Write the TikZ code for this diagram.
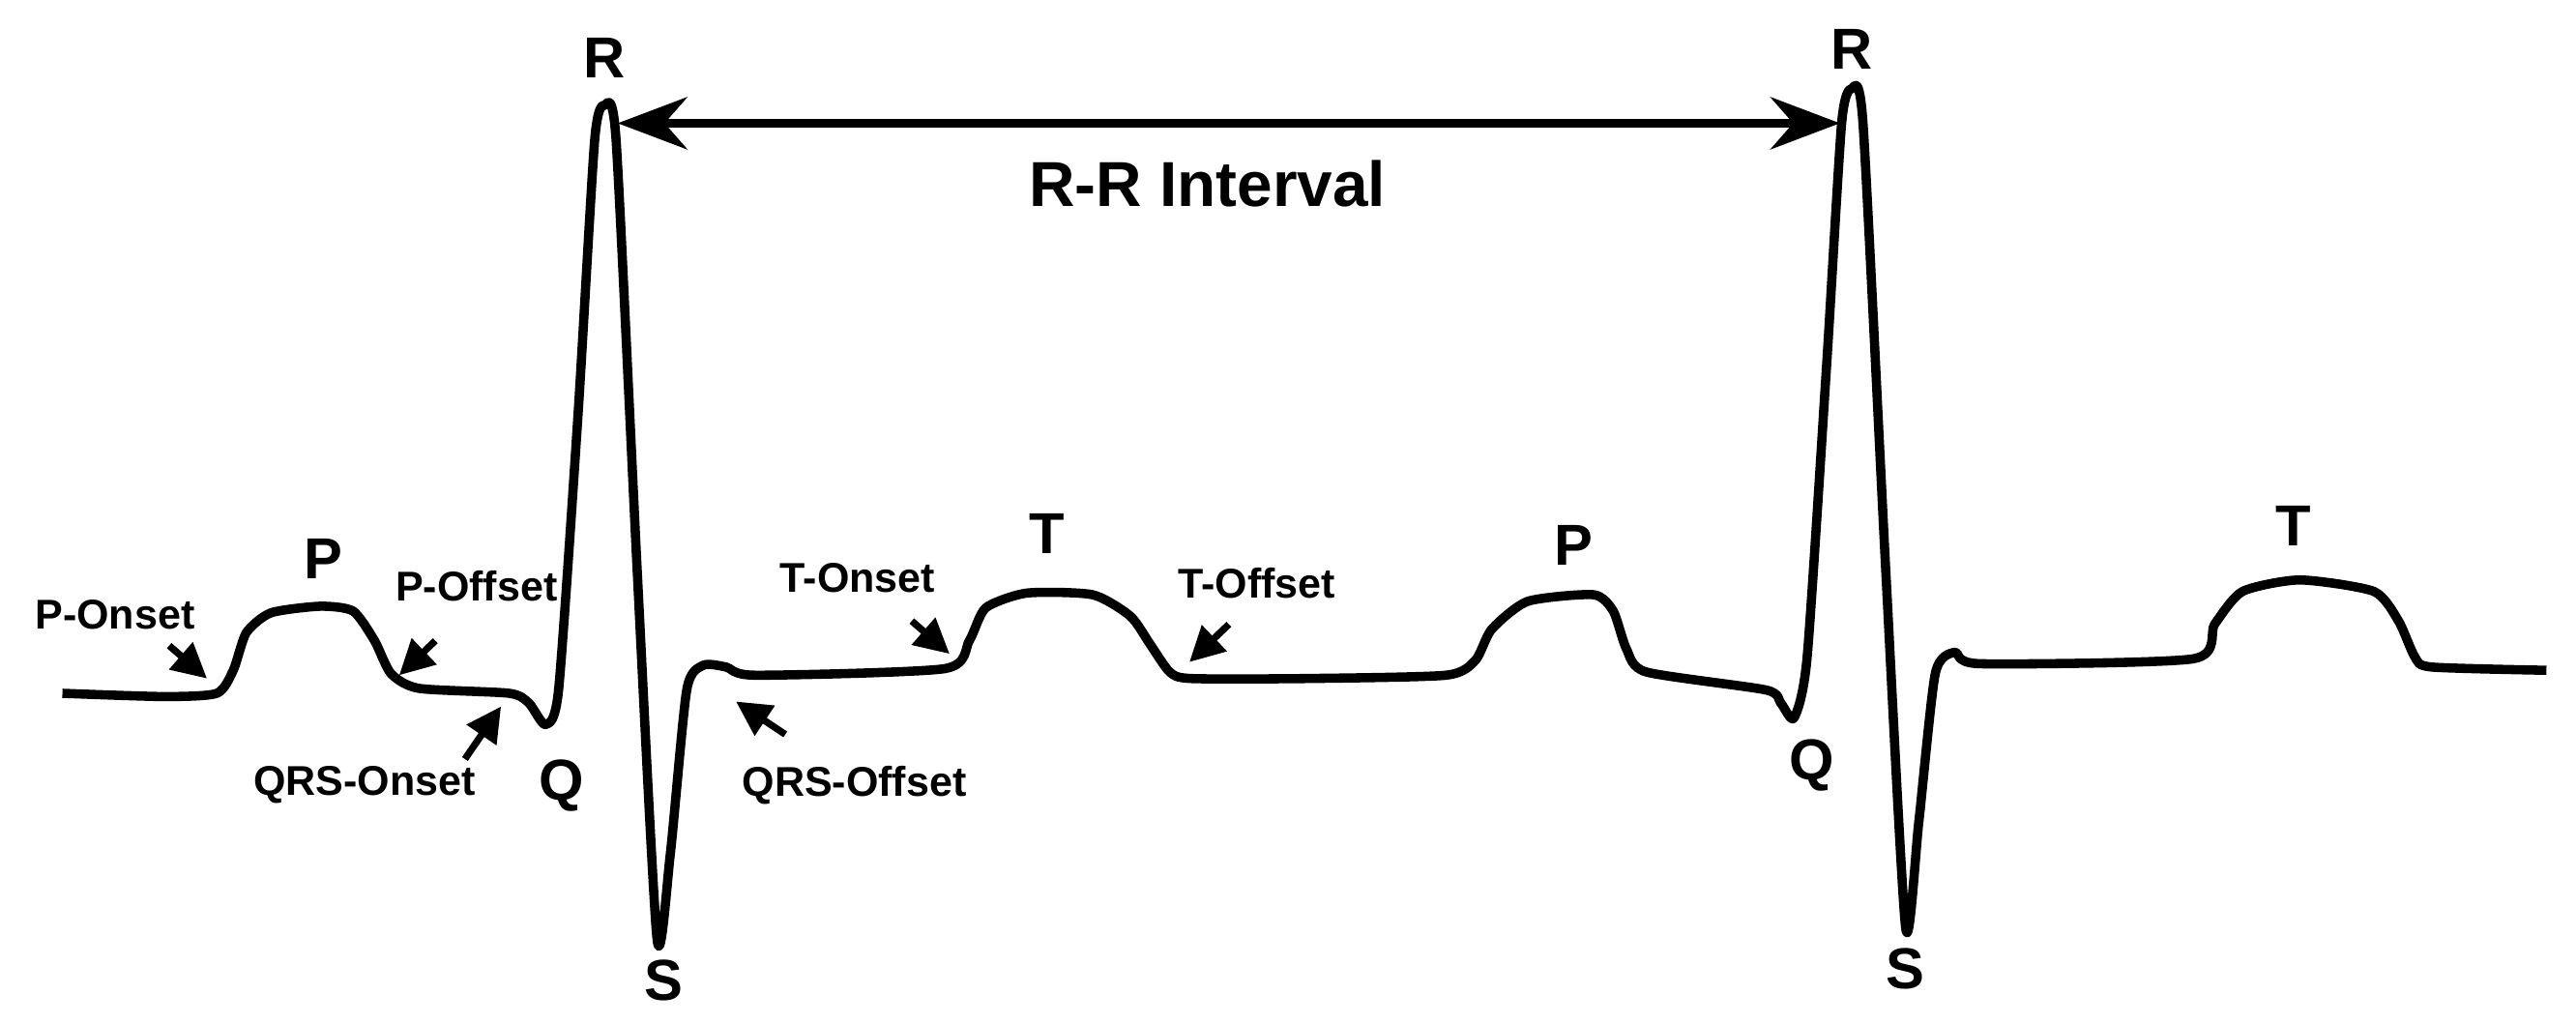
\documentclass[tikz,border=0pt]{standalone}
\usepackage{fontspec}
\setmainfont{Liberation Sans}
\usetikzlibrary{arrows.meta}
\begin{document}
\begin{tikzpicture}[x=0.01cm,y=-0.01cm,
 lbl/.style={font=\bfseries\fontsize{10}{12}\selectfont},
 sm/.style={font=\bfseries\fontsize{7.2}{9}\selectfont},
 ptr/.style={line width=1.2pt,-{Triangle[length=6pt,width=6pt]}},
 wave/.style={line width=1.6pt,line join=round}]
\useasboundingbox (0,0) rectangle (1568,623);
\draw[wave] plot[smooth,tension=0.4] coordinates {
(38,422)(100,424)(132,422)(142,408)(150,385)(165,373)(195,369)(215,372)(228,390)(238,410)(255,419)(310,422)(322,428)(332,441)(340,420)(352,250)(362,85)(368,64)(375,85)(388,350)(400,572)(408,520)(418,420)(428,405)(442,406)(460,411)(575,407)(590,390)(600,370)(625,361)(665,362)(688,375)(700,392)(712,409)(725,413)(795,413)(880,411)(898,402)(908,383)(930,366)(970,362)(982,372)(990,395)(1002,409)(1075,420)(1084,428)(1092,437)(1100,400)(1112,220)(1121,75)(1127,54)(1134,75)(1148,350)(1160,565)(1168,500)(1178,410)(1190,397)(1205,404)(1335,401)(1348,380)(1365,360)(1400,353)(1445,360)(1460,378)(1470,400)(1480,406)(1550,408)};
\node[lbl] (r1) at (368,35) {R};
\node[lbl] (r2) at (1127,30) {R};
\node[lbl] (s1) at (404,597) {S};
\node[lbl] (s2) at (1160,590) {S};
\node[lbl] (q1) at (342,478) {Q};
\node[lbl] (q2) at (1103,466) {Q};
\node[lbl] (p1) at (197,340) {P};
\node[lbl] (p2) at (958,332) {P};
\node[lbl] (t1) at (637,325) {T};
\node[lbl] (t2) at (1396,320) {T};
\node[lbl,font=\bfseries\fontsize{11}{13}\selectfont] (rr) at (735,112) {R-R Interval};
\node[sm] (pon) at (70,374) {P-Onset};
\node[sm] (poff) at (290,357) {P-Offset};
\node[sm] (qon) at (222,478) {QRS-Onset};
\node[sm] (qoff) at (520,478) {QRS-Offset};
\node[sm] (ton) at (522,352) {T-Onset};
\node[sm] (toff) at (765,355) {T-Offset};
\coordinate (ra) at (376,75); \coordinate (rb) at (1120,75);
\draw[line width=1.6pt,{Stealth[length=12pt,width=9pt]}-{Stealth[length=12pt,width=9pt]}] (ra) -- (rb);
\coordinate (a1) at (103,393); \coordinate (b1) at (126,413);
\coordinate (a2) at (265,390); \coordinate (b2) at (243,411);
\coordinate (a3) at (283,462); \coordinate (b3) at (305,430);
\coordinate (a4) at (478,447); \coordinate (b4) at (448,427);
\coordinate (a5) at (555,378); \coordinate (b5) at (578,398);
\coordinate (a6) at (748,380); \coordinate (b6) at (724,403);
\foreach \i in {1,...,6} \draw[ptr] (a\i) -- (b\i);
\end{tikzpicture}
\end{document}
